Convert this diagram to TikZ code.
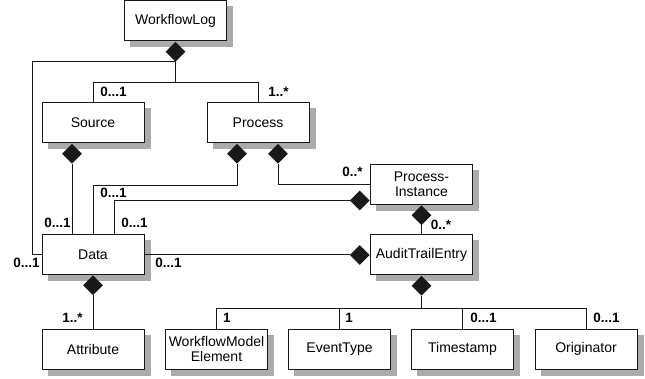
\documentclass[tikz,border=0pt]{standalone}
\usepackage{fontspec}
\setmainfont{Liberation Sans}
\usetikzlibrary{shapes.geometric,backgrounds}
\begin{document}
\begin{tikzpicture}[x=1pt,y=-1pt,
  cls/.style={draw=black!90, line width=1pt, fill=white, minimum width=102pt,
    minimum height=40pt, inner sep=1pt, align=center, font=\fontsize{14}{15.5}\selectfont},
  shade/.style={fill=black!33, draw=none},
  agg/.style={diamond, fill=black!90, draw=none, minimum width=20pt, minimum height=20pt, inner sep=0pt},
  link/.style={line width=1pt, draw=black!90},
  mult/.style={font=\bfseries\fontsize{13.5}{14}\selectfont, inner sep=0pt}]
\useasboundingbox (0,0) rectangle (645,379);

% classes
\node[cls] (wl)   at (175.5,21)  {WorkflowLog};
\node[cls] (src)  at (93,123)    {Source};
\node[cls] (proc) at (258,123)   {Process};
\node[cls] (pi)   at (421.5,184.5) {Process-\\Instance};
\node[cls] (data) at (93,254.5)  {Data};
\node[cls] (ate)  at (421.5,255) {AuditTrailEntry};
\node[cls] (attr) at (93,349)    {Attribute};
\node[cls] (wme)  at (216.5,349) {WorkflowModel\\Element};
\node[cls] (evt)  at (339.5,349) {EventType};
\node[cls] (ts)   at (462.5,349) {Timestamp};
\node[cls] (orig) at (586,349)   {Originator};

% drop shadows behind the classes
\begin{scope}[on background layer]
  \foreach \c in {wl,src,proc,pi,data,ate,attr,wme,evt,ts,orig}
    \fill[shade] ([xshift=6pt,yshift=-6pt]\c.south west) rectangle ([xshift=6pt,yshift=-6pt]\c.north east);
\end{scope}

% aggregation diamonds
\node[agg, anchor=north] (dwl)  at (wl.south) {};
\node[agg, anchor=north] (dsrc) at ([xshift=-21pt]src.south) {};
\node[agg, anchor=north] (dp1)  at ([xshift=-21pt]proc.south) {};
\node[agg, anchor=north] (dp2)  at ([xshift=20pt]proc.south) {};
\node[agg, anchor=east]  (dpi)  at ([yshift=-16pt]pi.west) {};
\node[agg, anchor=north] (dpi2) at (pi.south) {};
\node[agg, anchor=east]  (date) at (ate.west) {};
\node[agg, anchor=north] (date2) at (ate.south) {};
\node[agg, anchor=north] (ddata) at (data.south) {};

% junctions
\coordinate (jwl) at ([yshift=-21pt]dwl.south);
\coordinate (jleft) at (32,254.5);
\coordinate (jate) at ([yshift=-13pt]date2.south);

% WorkflowLog associations
\draw[link] (dwl.south) -- (jwl) -| (src.north);
\draw[link] (jwl) -| (proc.north);
\draw[link] (dwl.south) -| (jleft) -- (data.west);

% Source / Process / ProcessInstance to Data
\draw[link] (dsrc.south) -- (dsrc.south |- data.north);
\draw[link] (dp1.south) -- ++(0,22) -| (data.north);
\draw[link] (dp2.south) |- (pi.west);
\draw[link] (dpi.west) -| ([xshift=21pt]data.north);
\draw[link] (dpi2.south) -- (ate.north);
\draw[link] (date.west) -- (data.east |- date.west);
\draw[link] (ddata.south) -- (attr.north);

% AuditTrailEntry attributes
\draw[link] (date2.south) -- (jate);
\draw[link] (jate) -| (wme.north);
\draw[link] (jate) -| (evt.north);
\draw[link] (jate) -| (ts.north);
\draw[link] (jate) -| (orig.north);

% multiplicities
\node[mult] (m1)  at (113.5,92)  {0...1};
\node[mult] (m2)  at (278.5,92)  {1..*};
\node[mult] (m3)  at (352.5,172) {0..*};
\node[mult] (m4)  at (113.5,193) {0...1};
\node[mult] (m5)  at (57.5,223)  {0...1};
\node[mult] (m6)  at (134.5,223) {0...1};
\node[mult] (m7)  at (26.5,263)  {0...1};
\node[mult] (m8)  at (168.5,263) {0...1};
\node[mult] (m9)  at (441,225)   {0..*};
\node[mult] (m10) at (72.5,318)  {1..*};
\node[mult] (m11) at (227,318)   {1};
\node[mult] (m12) at (349,318)   {1};
\node[mult] (m13) at (483.5,318) {0...1};
\node[mult] (m14) at (606.5,318) {0...1};
\end{tikzpicture}
\end{document}
